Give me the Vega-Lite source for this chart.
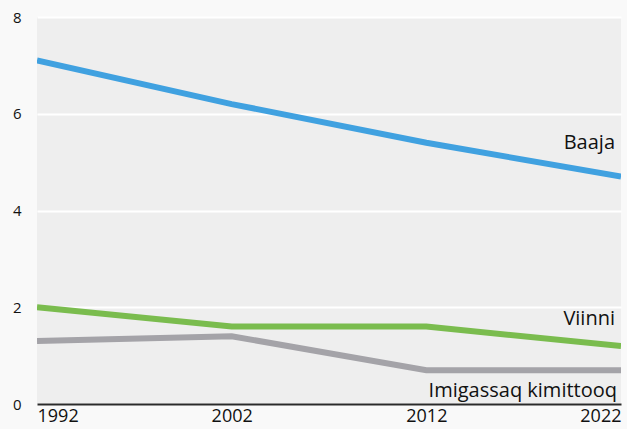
{
  "$schema": "https://vega.github.io/schema/vega-lite/v6.json",
  "width": 584,
  "height": 387,
  "autosize": {"type": "none"},
  "padding": {"left": 37, "top": 17, "right": 6, "bottom": 25},
  "background": "#f9f9f9",
  "config": {
    "view": {"fill": "#eeeeee", "stroke": null},
    "font": "Open Sans"
  },
  "data": {
    "values": [
      {"year": 1992, "series": "Baaja", "value": 7.1},
      {"year": 2002, "series": "Baaja", "value": 6.2},
      {"year": 2012, "series": "Baaja", "value": 5.4},
      {"year": 2022, "series": "Baaja", "value": 4.7},
      {"year": 1992, "series": "Viinni", "value": 2.0},
      {"year": 2002, "series": "Viinni", "value": 1.6},
      {"year": 2012, "series": "Viinni", "value": 1.6},
      {"year": 2022, "series": "Viinni", "value": 1.2},
      {"year": 1992, "series": "Imigassaq kimittooq", "value": 1.3},
      {"year": 2002, "series": "Imigassaq kimittooq", "value": 1.4},
      {"year": 2012, "series": "Imigassaq kimittooq", "value": 0.7},
      {"year": 2022, "series": "Imigassaq kimittooq", "value": 0.7}
    ]
  },
  "encoding": {
    "x": {
      "field": "year",
      "type": "quantitative",
      "scale": {"domain": [1992, 2022], "nice": false, "zero": false},
      "axis": {
        "title": null,
        "values": [1992, 2002, 2012, 2022],
        "format": "d",
        "grid": false,
        "ticks": false,
        "domain": true,
        "domainColor": "#2a2a2a",
        "domainWidth": 2,
        "labelFlush": true,
        "labelFontSize": 18,
        "labelColor": "#111111",
        "labelPadding": 3
      }
    },
    "y": {
      "field": "value",
      "type": "quantitative",
      "scale": {"domain": [0, 8], "nice": false},
      "axis": {
        "title": null,
        "values": [0, 2, 4, 6, 8],
        "grid": true,
        "gridColor": "#ffffff",
        "gridWidth": 2,
        "gridOpacity": 1,
        "ticks": false,
        "domain": false,
        "labelFontSize": 15,
        "labelColor": "#111111",
        "labelPadding": 16,
        "labelBaseline": "middle"
      }
    },
    "color": {
      "field": "series",
      "type": "nominal",
      "scale": {
        "domain": ["Baaja", "Viinni", "Imigassaq kimittooq"],
        "range": ["#40a1e0", "#7abc4e", "#a4a3a8"]
      },
      "legend": null
    }
  },
  "layer": [
    {
      "mark": {"type": "line", "strokeWidth": 6, "strokeCap": "butt", "clip": true}
    },
    {
      "transform": [{"filter": "datum.year == 2022 && datum.series == 'Baaja'"}],
      "mark": {"type": "text", "align": "right", "baseline": "alphabetic", "dx": -6, "dy": -28, "fontSize": 20, "color": "#111111"},
      "encoding": {"text": {"field": "series"}, "color": {"value": "#111111"}}
    },
    {
      "transform": [{"filter": "datum.year == 2022 && datum.series == 'Viinni'"}],
      "mark": {"type": "text", "align": "right", "baseline": "alphabetic", "dx": -6, "dy": -21, "fontSize": 20, "color": "#111111"},
      "encoding": {"text": {"field": "series"}, "color": {"value": "#111111"}}
    },
    {
      "transform": [{"filter": "datum.year == 2022 && datum.series == 'Imigassaq kimittooq'"}],
      "mark": {"type": "text", "align": "right", "baseline": "alphabetic", "dx": -4, "dy": 27, "fontSize": 20, "color": "#111111"},
      "encoding": {"text": {"field": "series"}, "color": {"value": "#111111"}}
    }
  ]
}
